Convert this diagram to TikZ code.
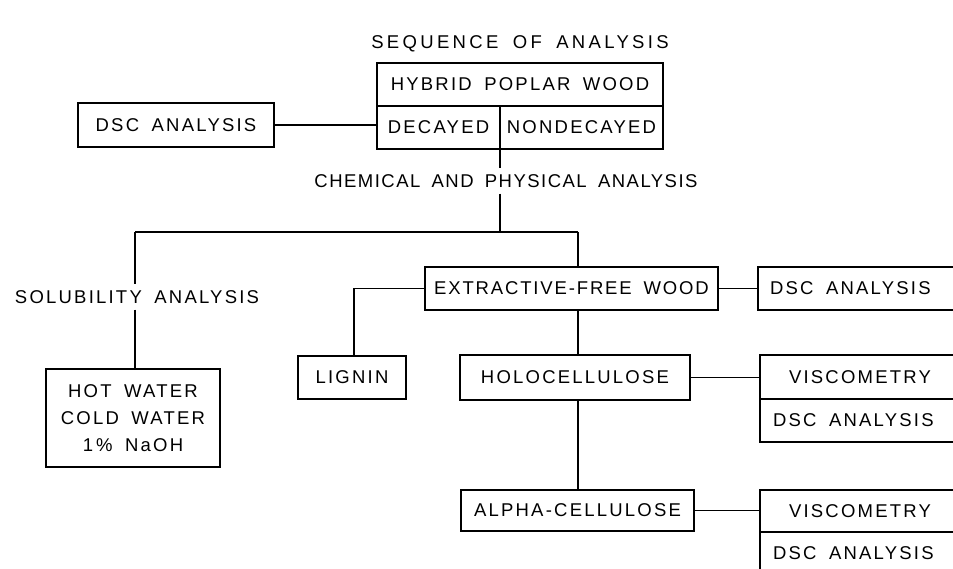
\documentclass[tikz,border=0pt]{standalone}
\usepackage{fontspec}
\setmainfont{Liberation Sans}[LetterSpace=12, WordSpace=1.7]
\newcommand{\rtext}[2]{\hbox to 190pt{\hspace*{#1}#2\hfil}}
\begin{document}
\begin{tikzpicture}[x=1pt,y=-1pt,
  every node/.style={font=\fontsize{18.5}{27}\selectfont, inner sep=0pt, outer sep=0pt},
  box/.style={draw, line width=1.5pt, minimum width=#1, minimum height=43pt, anchor=center},
  lbl/.style={inner ysep=6pt},
  conn/.style={line width=1.5pt}]
\clip (0,0) rectangle (953,569);
\useasboundingbox (0,0) rectangle (953,569);
% title
\node (title) at (520,44) {\addfontfeatures{LetterSpace=18}SEQUENCE OF ANALYSIS};
% hybrid box
\node[box=286] (hybrid) at (520,84.5) {HYBRID POPLAR WOOD};
\node[box=123] (decayed) at (438.5,127.5) {DECAYED};
\node[box=163] (nondecayed) at (581.5,127.5) {NONDECAYED};
\node[box=196, minimum height=44pt] (dscL) at (176,125) {DSC ANALYSIS};
% chemical
\node[lbl] (chem) at (506,181) {\addfontfeatures{LetterSpace=8}CHEMICAL AND PHYSICAL ANALYSIS};
\coordinate (j) at (500,232);
\coordinate (jl) at (135,232);
\coordinate (jr) at (578,232);
\node[lbl] (solu) at (137,297) {SOLUBILITY ANALYSIS};
\node[box=174, minimum height=98pt, align=center] (hot) at (133,418) {HOT WATER\\COLD WATER\\1\,\% NaOH};
% extractive
\node[box=293] (ext) at (571.5,288.5) {\addfontfeatures{LetterSpace=10}EXTRACTIVE-FREE WOOD};
\node[box=202] (dscE) at (859,288.5) {\rtext{6pt}{DSC ANALYSIS}};
\node[box=108] (lignin) at (352,377.5) {LIGNIN};
\coordinate (lc) at (354,288.5);
\node[box=230, minimum height=45pt] (holo) at (575,377.5) {HOLOCELLULOSE};
\node[box=200, minimum height=44pt] (visc1) at (860,377) {\rtext{24pt}{VISCOMETRY}};
\node[box=200, minimum height=43pt] (dsc2) at (860,420.5) {\rtext{8pt}{DSC ANALYSIS}};
\node[box=233, minimum height=41pt] (alpha) at (577.5,510.5) {ALPHA-CELLULOSE};
\node[box=200, minimum height=42pt] (visc2) at (860,511) {\rtext{24pt}{VISCOMETRY}};
\node[box=200, minimum height=43pt] (dsc3) at (860,553.5) {\rtext{8pt}{DSC ANALYSIS}};
% connectors
\draw[conn] (dscL.east) -- (dscL.east -| decayed.west);
\draw[conn] (decayed.south east) -- (chem.north -| decayed.south east);
\draw[conn] (chem.south -| j) -- (j);
\draw[conn] (jl) -- (jr);
\draw[conn] (jl) -- (solu.north -| jl);
\draw[conn] (solu.south -| jl) -- (hot.north -| jl);
\draw[conn] (jr) -- (ext.north -| jr);
\draw[conn] (ext.east) -- (dscE.west);
\draw[conn] (ext.west) -- (lc) -- (lignin.north -| lc);
\draw[conn] (ext.south -| jr) -- (holo.north -| jr);
\draw[conn] (holo.east) -- (holo.east -| visc1.west);
\draw[conn] (holo.south -| jr) -- (alpha.north -| jr);
\draw[conn] (alpha.east) -- (alpha.east -| visc2.west);
\end{tikzpicture}
\end{document}
